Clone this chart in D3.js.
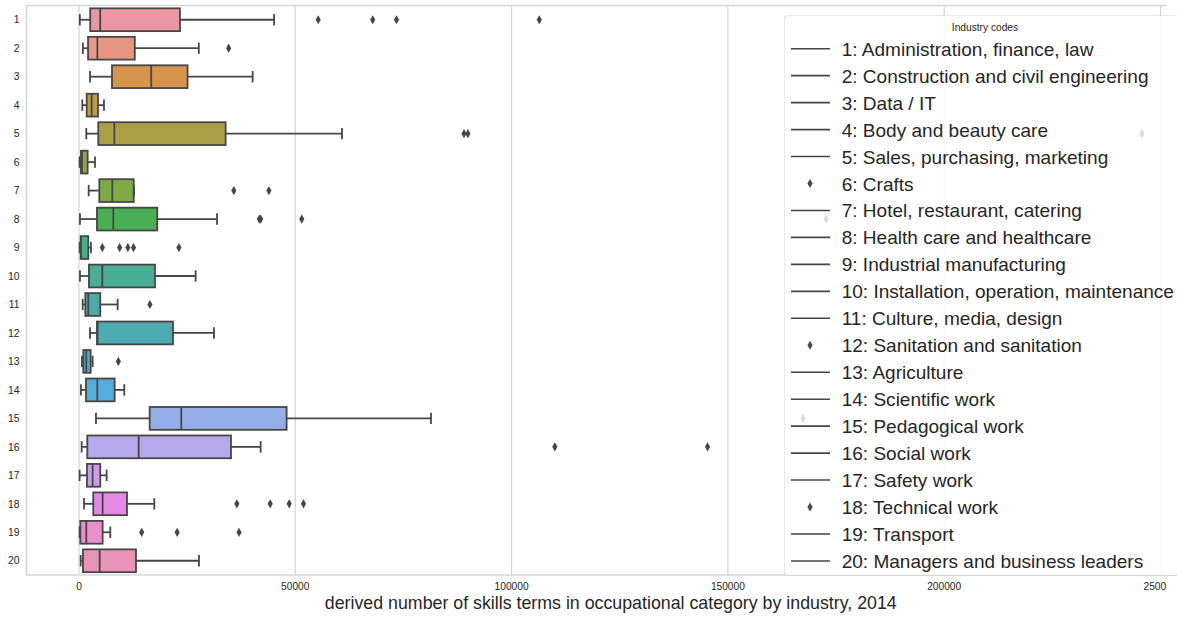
<!DOCTYPE html>
<html>
<head>
<meta charset="utf-8">
<script src="https://cdn.jsdelivr.net/npm/d3@7"></script>
<style>
  body { margin: 0; background: #fff; }
  text { font-family: "Liberation Sans", Arial, sans-serif; fill: #262626; }
</style>
</head>
<body>
<div id="chart"></div>
<script>
// industry codes (y categories) and legend names
var codes = ["1","2","3","4","5","6","7","8","9","10","11","12","13","14","15","16","17","18","19","20"];
var industryNames = [
  "Administration, finance, law", "Construction and civil engineering", "Data / IT",
  "Body and beauty care", "Sales, purchasing, marketing", "Crafts",
  "Hotel, restaurant, catering", "Health care and healthcare", "Industrial manufacturing",
  "Installation, operation, maintenance", "Culture, media, design", "Sanitation and sanitation",
  "Agriculture", "Scientific work", "Pedagogical work", "Social work", "Safety work",
  "Technical work", "Transport", "Managers and business leaders"
];

// box statistics
var whiskerLow  = [200, 900, 2550, 770, 1690, 150, 2240, 230, 150, 230, 850, 2540, 690, 460, 3930, 620, 150, 1160, 150, 390];
var q1          = [2600, 2100, 7630, 1780, 4460, 460, 4700, 4160, 390, 2310, 1460, 4160, 1000, 1620, 16340, 1920, 1850, 3310, 310, 920];
var median      = [4900, 4250, 16700, 2930, 8170, 700, 7700, 7930, 460, 5390, 2150, 4300, 1690, 4230, 23650, 13800, 3160, 5470, 1690, 4780];
var q3          = [23350, 12900, 25100, 4400, 33900, 2000, 12650, 18100, 2150, 17570, 4920, 21730, 2700, 8250, 48000, 35140, 4920, 11100, 5470, 13180];
var whiskerHigh = [45100, 27700, 40150, 5780, 60800, 3700, 12700, 31900, 2770, 26970, 8940, 31200, 3160, 10470, 81370, 42000, 6400, 17410, 7240, 27740];
var fliers = [
  [55300, 67900, 73400, 106400],
  [34600],
  [],
  [],
  [89000, 89900, 245700],
  [],
  [35800, 43900],
  [41700, 42000, 51500, 172700],
  [5400, 9400, 11300, 12600, 23100],
  [],
  [16400],
  [],
  [9100],
  [],
  [167400],
  [110000, 145300],
  [],
  [36500, 44200, 48600, 51900],
  [14500, 22700, 37000],
  []
];
var xTicks = [0, 50000, 100000, 150000, 200000, 250000];
var legendDiamonds = ["6", "12", "18"];   // entries whose handle is a flier marker

// ---- husl palette (as seaborn does it) ----
var M = [[3.2406, -1.5372, -0.4986], [-0.9689, 1.8758, 0.0415], [0.0557, -0.2040, 1.0570]];
var refU = 0.19784, refV = 0.46834, labE = 0.008856, labK = 903.3;

function maxChroma(L, H) {
  var hrad = H / 180 * Math.PI, sinH = Math.sin(hrad), cosH = Math.cos(hrad);
  var sub1 = Math.pow(L + 16, 3) / 1560896;
  var sub2 = sub1 > labE ? sub1 : L / labK;
  var result = Infinity;
  M.forEach(function(row) {
    var m1 = row[0], m2 = row[1], m3 = row[2];
    var top = (0.99915 * m1 + 1.05122 * m2 + 1.14460 * m3) * sub2;
    var rbottom = 0.86330 * m3 - 0.17266 * m2;
    var lbottom = 0.12949 * m3 - 0.38848 * m1;
    var bottom = (rbottom * sinH + lbottom * cosH) * sub2;
    [0, 1].forEach(function(t) {
      var C = L * (top - 1.05122 * t) / (bottom + 0.17266 * sinH * t);
      if (C > 0 && C < result) result = C;
    });
  });
  return result;
}
function fInv(t) { return Math.pow(t, 3) > labE ? Math.pow(t, 3) : (116 * t - 16) / labK; }
function fromLinear(c) { return c <= 0.0031308 ? 12.92 * c : 1.055 * Math.pow(c, 1 / 2.4) - 0.055; }

function huslToRgb(H, S, L) {
  var C = maxChroma(L, H) / 100 * S;
  var hrad = H / 180 * Math.PI;
  var U = C * Math.cos(hrad), V = C * Math.sin(hrad);
  var varY = fInv((L + 16) / 116);
  var varU = U / (13 * L) + refU, varV = V / (13 * L) + refV;
  var Y = varY;
  var X = 0 - (9 * Y * varU) / ((varU - 4) * varV - varU * varV);
  var Z = (9 * Y - 15 * varV * Y - varV * X) / (3 * varV);
  return M.map(function(row) {
    var v = fromLinear(row[0] * X + row[1] * Y + row[2] * Z);
    return Math.max(0, Math.min(1, v));
  });
}

var n = codes.length;
var colors = d3.range(n).map(function(i) {
  var h = ((i / n + 0.01) % 1) * 359;
  var rgb = huslToRgb(h, 0.9 * 99, 0.7 * 99);
  var hsl = d3.hsl(d3.rgb(rgb[0] * 255, rgb[1] * 255, rgb[2] * 255));
  hsl.s *= 0.75;
  return hsl;
});
var minLight = d3.min(colors, function(c) { return c.l; });
var g255 = Math.round(minLight * 0.6 * 255);
var gray = d3.rgb(g255, g255, g255).formatHex();
var fills = colors.map(function(c) { return c.formatHex(); });

// ---- sizes ----
var width = 1177, height = 619;
var plot = { left: 26.5, top: 5.5, right: 1195, bottom: 575 };
var cropRight = 1166.5;   // the original figure is cut off here

var svg = d3.select("#chart").append("svg")
  .attr("width", width)
  .attr("height", height);

svg.append("clipPath").attr("id", "crop")
  .append("rect").attr("x", 0).attr("y", 0).attr("width", cropRight).attr("height", height);

var x = d3.scaleLinear().domain([-12130, 257980]).range([plot.left, plot.right]);
var y = d3.scaleBand().domain(codes).range([plot.top, plot.bottom]);
var boxH = y.bandwidth() * 0.8;
var lw = 1.8;

var main = svg.append("g").attr("clip-path", "url(#crop)");

// grid
main.append("g").selectAll("line")
  .data(xTicks).enter().append("line")
  .attr("x1", function(d) { return x(d); }).attr("x2", function(d) { return x(d); })
  .attr("y1", plot.top).attr("y2", plot.bottom)
  .attr("stroke", "#d5d5d5").attr("stroke-width", 1.2);

// spines
main.append("rect")
  .attr("x", plot.left).attr("y", plot.top)
  .attr("width", plot.right - plot.left).attr("height", plot.bottom - plot.top)
  .attr("fill", "none").attr("stroke", "#d5d5d5").attr("stroke-width", 1.5);

// x tick labels
main.append("g").selectAll("text")
  .data(xTicks).enter().append("text")
  .attr("x", function(d) { return x(d); })
  .attr("y", 590)
  .attr("text-anchor", "middle")
  .style("font-size", "10.2px")
  .text(function(d) { return d; });

// y tick labels
main.append("g").selectAll("text")
  .data(codes).enter().append("text")
  .attr("x", 19.5)
  .attr("y", function(d) { return y(d) + y.bandwidth() / 2 + 3.7; })
  .attr("text-anchor", "end")
  .style("font-size", "10.4px")
  .text(function(d) { return d; });

// x axis label
main.append("text")
  .attr("x", (plot.left + plot.right) / 2)
  .attr("y", 608.5)
  .attr("text-anchor", "middle")
  .style("font-size", "17.8px")
  .text("derived number of skills terms in occupational category by industry, 2014");

// boxes
var boxes = main.append("g").selectAll("g")
  .data(codes).enter().append("g")
  .attr("transform", function(d) { return "translate(0," + (y(d) + y.bandwidth() / 2) + ")"; });

// whiskers
boxes.append("line")
  .attr("x1", function(d, i) { return x(whiskerLow[i]); })
  .attr("x2", function(d, i) { return x(q1[i]); })
  .attr("stroke", gray).attr("stroke-width", lw);
boxes.append("line")
  .attr("x1", function(d, i) { return x(q3[i]); })
  .attr("x2", function(d, i) { return x(whiskerHigh[i]); })
  .attr("stroke", gray).attr("stroke-width", lw);
// caps
[whiskerLow, whiskerHigh].forEach(function(arr) {
  boxes.append("line")
    .attr("x1", function(d, i) { return x(arr[i]); })
    .attr("x2", function(d, i) { return x(arr[i]); })
    .attr("y1", -boxH / 4).attr("y2", boxH / 4)
    .attr("stroke", gray).attr("stroke-width", lw);
});
// box
boxes.append("rect")
  .attr("x", function(d, i) { return x(q1[i]); })
  .attr("y", -boxH / 2)
  .attr("width", function(d, i) { return x(q3[i]) - x(q1[i]); })
  .attr("height", boxH)
  .attr("fill", function(d, i) { return fills[i]; })
  .attr("stroke", gray).attr("stroke-width", lw);
// median
boxes.append("line")
  .attr("x1", function(d, i) { return x(median[i]); })
  .attr("x2", function(d, i) { return x(median[i]); })
  .attr("y1", -boxH / 2).attr("y2", boxH / 2)
  .attr("stroke", gray).attr("stroke-width", lw);
// fliers (thin diamonds)
var diamond = "M0,-4.6L2.6,0L0,4.6L-2.6,0Z";
boxes.selectAll("path")
  .data(function(d, i) { return fliers[i]; })
  .enter().append("path")
  .attr("d", diamond)
  .attr("transform", function(v) { return "translate(" + x(v) + ",0)"; })
  .attr("fill", gray);

// legend
var lg = svg.append("g").attr("transform", "translate(784,15.5)");
lg.append("rect")
  .attr("clip-path", "url(#crop)")
  .attr("width", 402).attr("height", 560)
  .attr("rx", 4)
  .attr("fill", "#fff").attr("fill-opacity", 0.8)
  .attr("stroke", "#d5d5d5").attr("stroke-width", 1);
lg.append("text")
  .attr("x", 201).attr("y", 15.2)
  .attr("text-anchor", "middle")
  .style("font-size", "10.2px")
  .text("Industry codes");

var items = lg.selectAll(".item")
  .data(codes).enter().append("g")
  .attr("class", "item")
  .attr("transform", function(d, i) { return "translate(0," + (33.2 + i * 26.96) + ")"; });
items.filter(function(d) { return legendDiamonds.indexOf(d) < 0; })
  .append("line")
  .attr("x1", 7).attr("x2", 46)
  .attr("stroke", gray).attr("stroke-width", 1.6);
items.filter(function(d) { return legendDiamonds.indexOf(d) >= 0; })
  .append("path")
  .attr("d", diamond)
  .attr("transform", "translate(26,0)")
  .attr("fill", gray);
items.append("text")
  .attr("x", 57.7)
  .attr("y", 7)
  .style("font-size", "19.05px")
  .text(function(d, i) { return d + ": " + industryNames[i]; });
</script>
</body>
</html>
